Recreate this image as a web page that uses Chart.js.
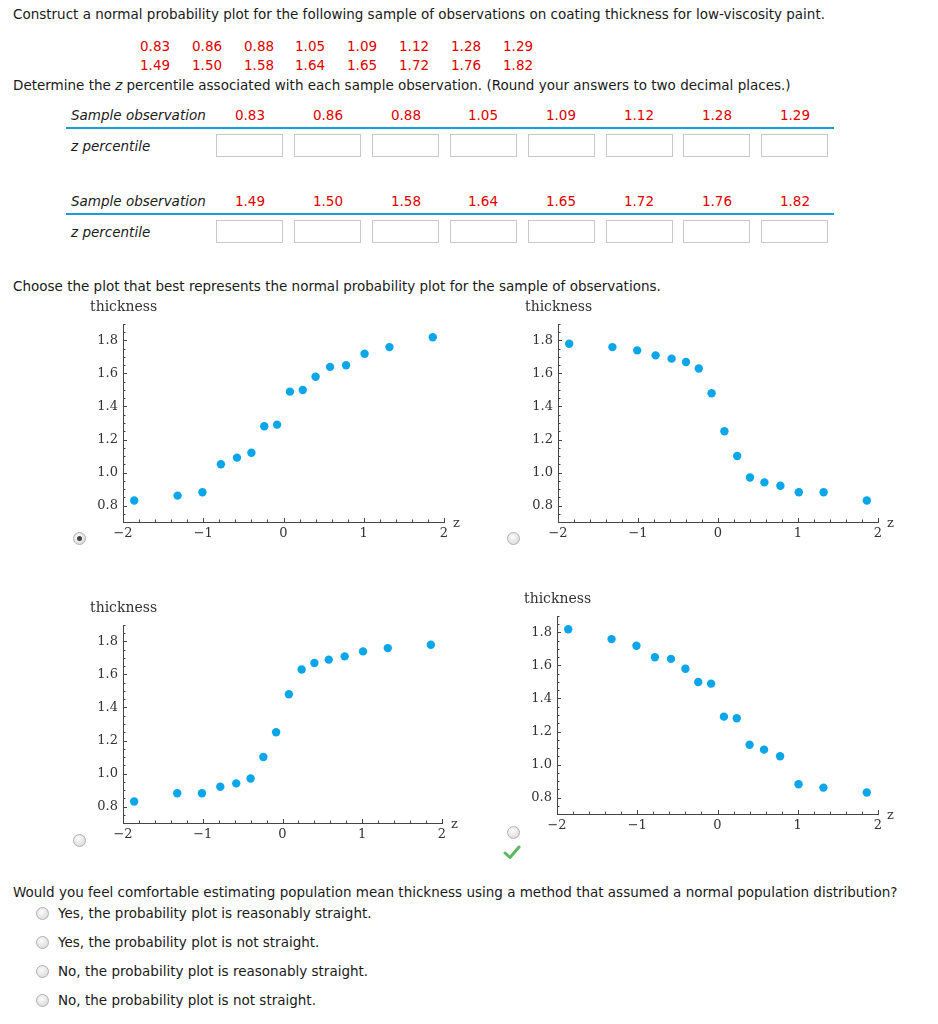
<!DOCTYPE html>
<html><head><meta charset="utf-8">
<script src="https://cdn.jsdelivr.net/npm/chart.js@4/dist/chart.umd.min.js"></script>
<style>
body{margin:0;background:#fff;font-family:"DejaVu Sans",Verdana,sans-serif;font-size:13.5px;color:#1a1a1a;}
#page{position:relative;width:938px;height:1024px;overflow:hidden;}
.t{position:absolute;white-space:nowrap;line-height:16px;}
.red{color:#e00000;}
.c{text-align:center;width:60px;}
.box{position:absolute;width:67px;height:23px;border:1px solid #c8c8c8;background:#fff;box-sizing:border-box;}
.line{position:absolute;height:2px;background:#1a9ddb;}
.radio{position:absolute;width:13px;height:13px;border-radius:50%;border:1px solid #b0b0b0;background:radial-gradient(circle at 40% 35%,#fbfbfb,#d4d4d4);box-sizing:border-box;}
.radio.sel::after{content:"";position:absolute;left:3px;top:3px;width:5px;height:5px;border-radius:50%;background:#444;}
canvas{position:absolute;}
</style></head>
<body><div id="page">
<div class="t" style="left:13px;top:6px;">Construct a normal probability plot for the following sample of observations on coating thickness for low-viscosity paint.</div>
<div class="t" style="left:13px;top:77px;">Determine the <i>z</i> percentile associated with each sample observation. (Round your answers to two decimal places.)</div>
<div class="t" style="left:71px;top:107px;"><i>Sample observation</i></div>
<div class="line" style="left:66px;top:127px;width:768px;"></div>
<div class="t" style="left:71px;top:138px;"><i>z percentile</i></div>
<div class="t" style="left:71px;top:193px;"><i>Sample observation</i></div>
<div class="line" style="left:66px;top:213px;width:768px;"></div>
<div class="t" style="left:71px;top:224px;"><i>z percentile</i></div>
<div class="t" style="left:13px;top:278px;">Choose the plot that best represents the normal probability plot for the sample of observations.</div>
<div class="radio sel" style="left:73px;top:532px;"></div>
<div class="radio" style="left:507px;top:532px;"></div>
<div class="radio" style="left:73px;top:834px;"></div>
<div class="radio" style="left:507px;top:826px;"></div>
<svg style="position:absolute;left:503px;top:845px;" width="18" height="15" viewBox="0 0 18 15"><path d="M2 8 L7 12.5 L16 2" fill="none" stroke="#5cb85c" stroke-width="3" stroke-linecap="round" stroke-linejoin="round"/></svg>
<div class="t" style="left:13px;top:884px;">Would you feel comfortable estimating population mean thickness using a method that assumed a normal population distribution?</div>
<div class="radio" style="left:36px;top:907px;"></div>
<div class="t" style="left:58px;top:905px;">Yes, the probability plot is reasonably straight.</div>
<div class="radio" style="left:36px;top:936px;"></div>
<div class="t" style="left:58px;top:934px;">Yes, the probability plot is not straight.</div>
<div class="radio" style="left:36px;top:965px;"></div>
<div class="t" style="left:58px;top:963px;">No, the probability plot is reasonably straight.</div>
<div class="radio" style="left:36px;top:994px;"></div>
<div class="t" style="left:58px;top:992px;">No, the probability plot is not straight.</div>
</div>
<script>
// ---- data ----
const obsRow1 = [0.83, 0.86, 0.88, 1.05, 1.09, 1.12, 1.28, 1.29];
const obsRow2 = [1.49, 1.50, 1.58, 1.64, 1.65, 1.72, 1.76, 1.82];
const zScores = [-1.86, -1.32, -1.01, -0.78, -0.58, -0.40, -0.24, -0.08, 0.08, 0.24, 0.40, 0.58, 0.78, 1.01, 1.32, 1.86];
const plotA = [0.83, 0.86, 0.88, 1.05, 1.09, 1.12, 1.28, 1.29, 1.49, 1.50, 1.58, 1.64, 1.65, 1.72, 1.76, 1.82];
const plotB = [1.78, 1.76, 1.74, 1.71, 1.69, 1.67, 1.63, 1.48, 1.25, 1.10, 0.97, 0.94, 0.92, 0.88, 0.88, 0.83];
const plotC = [0.83, 0.88, 0.88, 0.92, 0.94, 0.97, 1.10, 1.25, 1.48, 1.63, 1.67, 1.69, 1.71, 1.74, 1.76, 1.78];
const plotD = [1.82, 1.76, 1.72, 1.65, 1.64, 1.58, 1.50, 1.49, 1.29, 1.28, 1.12, 1.09, 1.05, 0.88, 0.86, 0.83];
const xTickVals = [-2, -1, 0, 1, 2];
const yTickVals = [0.8, 1.0, 1.2, 1.4, 1.6, 1.8];
const axisLabelX = 'z';
const axisLabelY = 'thickness';

const page = document.getElementById('page');
function addText(txt, left, top, cls) {
  const d = document.createElement('div');
  d.className = 't ' + (cls || '');
  d.style.left = left + 'px'; d.style.top = top + 'px';
  d.textContent = txt;
  page.appendChild(d);
}
// header red numbers
obsRow1.forEach((v, i) => addText(v.toFixed(2), Math.round(140 + i * 51.8), 38, 'red'));
obsRow2.forEach((v, i) => addText(v.toFixed(2), Math.round(140 + i * 51.8), 57, 'red'));
// tables
function addBoxes(top) {
  for (let i = 0; i < 8; i++) {
    const b = document.createElement('div');
    b.className = 'box';
    b.style.left = Math.round(216 + i * 77.9) + 'px';
    b.style.top = top + 'px';
    page.appendChild(b);
  }
}
obsRow1.forEach((v, i) => addText(v.toFixed(2), Math.round(250 + i * 77.8 - 30), 107, 'red c'));
obsRow2.forEach((v, i) => addText(v.toFixed(2), Math.round(250 + i * 77.8 - 30), 193, 'red c'));
addBoxes(134);
addBoxes(220);

// ---- charts ----
const decor = {
  id: 'decor',
  beforeDatasetsDraw(chart) {
    const {ctx, chartArea: a, scales: {x, y}} = chart;
    ctx.save();
    ctx.strokeStyle = '#444'; ctx.lineWidth = 1;
    ctx.beginPath();
    for (let i = 0; i <= 20; i++) {
      const px = Math.round(x.getPixelForValue(-2 + i * 0.2)) + 0.5;
      const len = i % 5 === 0 ? 4 : 2.5;
      ctx.moveTo(px, a.bottom); ctx.lineTo(px, a.bottom - len);
    }
    for (let i = 0; i <= 24; i++) {
      const py = Math.round(y.getPixelForValue(0.7 + i * 0.05)) + 0.5;
      const len = i % 4 === 2 ? 4 : 2.5;
      ctx.moveTo(a.left, py); ctx.lineTo(a.left + len, py);
    }
    ctx.stroke();
    ctx.fillStyle = '#333';
    ctx.textAlign = 'left';
    ctx.font = '14px "DejaVu Serif"'; ctx.textBaseline = 'middle';
    ctx.fillText(axisLabelY, a.left - 33, a.top - 17);
    ctx.font = '13px "DejaVu Serif"'; ctx.textBaseline = 'alphabetic';
    ctx.fillText(axisLabelX, a.right + 9, a.bottom + 5);
    ctx.restore();
  }
};

function makePlot(values, box) {
  const PADL = 60, PADT = 40, PADR = 30, PADB = 30;
  const aw = Math.round(box.r - box.l), ah = Math.round(box.b - box.t);
  const w = aw + PADL + PADR, h = ah + PADT + PADB;
  const cv = document.createElement('canvas');
  cv.width = w; cv.height = h;
  cv.style.left = (Math.round(box.l) - PADL) + 'px';
  cv.style.top = (Math.round(box.t) - PADT) + 'px';
  cv.style.width = w + 'px'; cv.style.height = h + 'px';
  page.appendChild(cv);
  const tickFont = {family: '"DejaVu Serif"', size: 13};
  new Chart(cv, {
    type: 'scatter',
    data: {datasets: [{
      data: zScores.map((z, i) => ({x: z, y: values[i]})),
      pointRadius: 4.2, pointHoverRadius: 4.2,
      pointBackgroundColor: '#0ba6e9', pointBorderWidth: 0, showLine: false
    }]},
    options: {
      responsive: false, animation: false, devicePixelRatio: 1, events: [],
      layout: {padding: {left: 0, top: PADT, right: PADR, bottom: 0}},
      plugins: {legend: {display: false}, tooltip: {enabled: false}},
      scales: {
        x: {
          type: 'linear', min: -2, max: 2,
          grid: {display: false, drawTicks: false},
          border: {display: true, color: '#444', width: 1},
          afterBuildTicks: s => { s.ticks = xTickVals.map(v => ({value: v})); },
          afterFit: s => { s.height = PADB; },
          ticks: {autoSkip: false, maxRotation: 0, padding: 4, color: '#333', font: tickFont,
            callback: v => v < 0 ? '\u2212' + Math.abs(v) : String(v)}
        },
        y: {
          type: 'linear', min: 0.7, max: 1.9,
          grid: {display: false, drawTicks: false},
          border: {display: true, color: '#444', width: 1},
          afterBuildTicks: s => { s.ticks = yTickVals.map(v => ({value: v})); },
          afterFit: s => { s.width = PADL; },
          ticks: {autoSkip: false, padding: 5, color: '#333', font: tickFont,
            callback: v => Number(v).toFixed(1)}
        }
      }
    },
    plugins: [decor]
  });
}
makePlot(plotA, {l: 123, r: 444, t: 323.5, b: 521.5});
makePlot(plotB, {l: 558, r: 878, t: 323.5, b: 521.5});
makePlot(plotC, {l: 123, r: 442, t: 625, b: 823});
makePlot(plotD, {l: 557, r: 878, t: 616, b: 814});
</script>
</body></html>
